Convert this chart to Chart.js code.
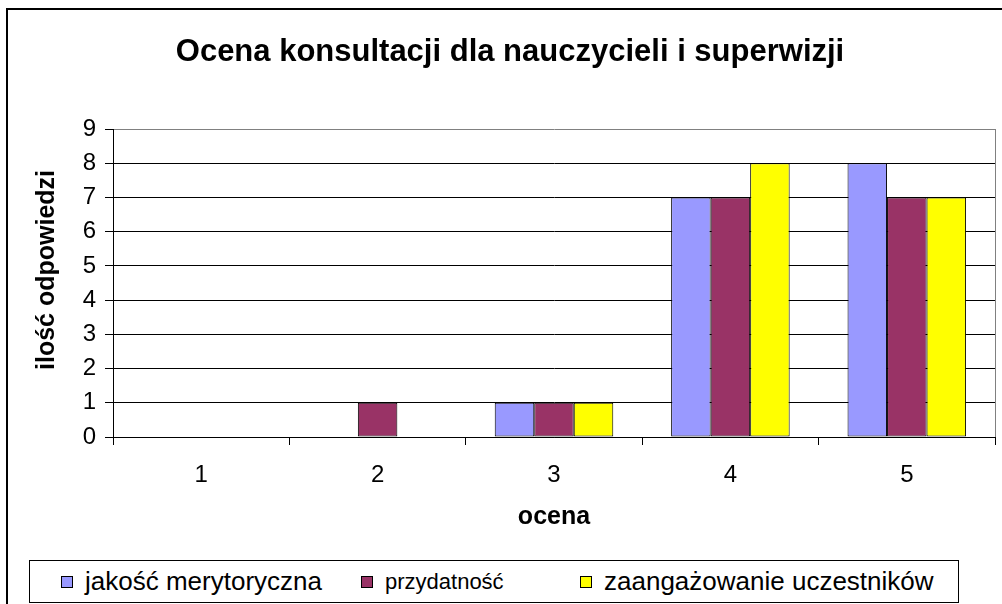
<!DOCTYPE html>
<html><head><meta charset="utf-8">
<script src="https://cdn.jsdelivr.net/npm/chart.js@4.4.1/dist/chart.umd.min.js"></script>
<style>
html,body{margin:0;padding:0;background:#fff;}
#wrap{position:relative;width:1002px;height:604px;overflow:hidden;font-family:"Liberation Sans",Arial,sans-serif;}
#c{position:absolute;left:0;top:0;}
#legend{position:absolute;left:29px;top:560px;width:928px;height:41px;border:1px solid #000;background:#fff;}
.item{position:absolute;top:0;height:41px;display:flex;align-items:center;white-space:nowrap;color:#000;font-size:26px;}
.item.small{font-size:22px;}
.sw{width:10px;height:10px;border:1px solid #000;margin-right:12px;flex:none;}
#li0{left:31px;} #li1{left:331px;} #li2{left:550px;}
</style></head><body>
<div id="wrap"><canvas id="c" width="1002" height="604"></canvas><div id="legend"></div></div>
<script>
const categories = ['1','2','3','4','5'];
const seriesNames = ['jakość merytoryczna','przydatność','zaangażowanie uczestników'];
const jakoscMerytoryczna = [0,0,1,7,8];
const przydatnosc = [0,1,1,7,7];
const zaangazowanie = [0,0,1,8,7];
const seriesColors = ['#9999FF','#993366','#FFFF00'];
const yTicks = [0,1,2,3,4,5,6,7,8,9];
const titleText = 'Ocena konsultacji dla nauczycieli i superwizji';
const xTitle = 'ocena';
const yTitle = 'ilość odpowiedzi';

const FONT = '"Liberation Sans", Arial, sans-serif';
const seriesData = [jakoscMerytoryczna, przydatnosc, zaangazowanie];

const frame = {
  id: 'frame',
  beforeDraw(chart) {
    const c = chart.ctx;
    c.save();
    c.fillStyle = '#fff';
    c.fillRect(0, 0, chart.width, chart.height);
    c.strokeStyle = '#000';
    c.lineWidth = 2;
    c.strokeRect(7, 9, 1100, 700);
    c.restore();
  },
  afterDraw(chart) {
    const c = chart.ctx;
    c.save();
    c.translate(47, 270);
    c.rotate(-Math.PI / 2);
    c.fillStyle = '#000';
    c.font = 'bold 25px ' + FONT;
    c.textAlign = 'center';
    c.textBaseline = 'middle';
    c.fillText(yTitle, 0, 0);
    c.restore();
  }
};

new Chart(document.getElementById('c'), {
  type: 'bar',
  data: {
    labels: categories,
    datasets: seriesNames.map((n, i) => ({
      label: n,
      data: seriesData[i],
      backgroundColor: seriesColors[i],
      borderColor: '#000',
      borderWidth: 1,
      borderSkipped: false
    }))
  },
  options: {
    responsive: false,
    animation: false,
    devicePixelRatio: 1,
    layout: { padding: { left: 25, right: 7, top: 0, bottom: 0 } },
    datasets: { bar: { categoryPercentage: 0.672, barPercentage: 1 } },
    plugins: {
      legend: { display: false },
      tooltip: { enabled: false },
      title: {
        display: true, text: titleText, color: '#000',
        font: { family: FONT, size: 31, weight: 'bold', lineHeight: 1.2 },
        padding: { top: 34, bottom: 57.8 }
      }
    },
    scales: {
      x: {
        grid: {
          offset: true, drawOnChartArea: true,
          color: (c) => (c.type === 'scale' ? '#808080' : 'rgba(0,0,0,0)'),
          tickColor: '#000', tickLength: 8, lineWidth: 1
        },
        border: { color: '#000', width: 1 },
        ticks: { color: '#000', font: { family: FONT, size: 24 }, padding: 16 },
        title: {
          display: true, text: xTitle, color: '#000',
          font: { family: FONT, size: 25, weight: 'bold', lineHeight: 1.2 },
          padding: { top: 0, bottom: 72 }
        },
        afterFit(s) { s.height = 167; }
      },
      y: {
        min: yTicks[0], max: yTicks[yTicks.length - 1],
        ticks: { stepSize: 1, color: '#000', font: { family: FONT, size: 24 }, padding: 9 },
        grid: {
          color: (c) => (c.index === yTicks.length - 1 ? '#808080' : '#000'),
          tickColor: '#000', tickLength: 8, lineWidth: 1
        },
        border: { color: '#000', width: 1 },
        title: { display: false, text: yTitle },
        afterFit(s) { s.width = 88; }
      }
    }
  },
  plugins: [frame]
});

const leg = document.getElementById('legend');
seriesNames.forEach((n, i) => {
  const it = document.createElement('div');
  it.className = 'item' + (i === 1 ? ' small' : '');
  it.id = 'li' + i;
  const sw = document.createElement('span');
  sw.className = 'sw';
  sw.style.background = seriesColors[i];
  const tx = document.createElement('span');
  tx.textContent = n;
  it.appendChild(sw); it.appendChild(tx);
  leg.appendChild(it);
});
</script>
</body></html>
